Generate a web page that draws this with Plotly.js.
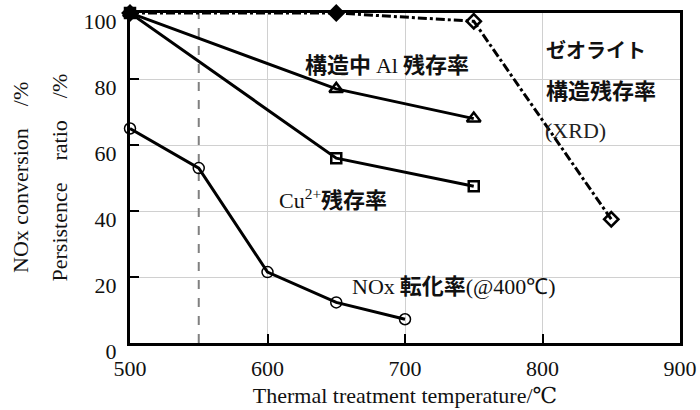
<!DOCTYPE html>
<html>
<head>
<meta charset="utf-8">
<script src="https://cdn.plot.ly/plotly-3.0.1.min.js"></script>
<style>html,body{margin:0;padding:0;background:#fff;}#chart{width:700px;height:410px;}</style>
</head>
<body>
<div id="chart"></div>
<script>
// Data
const zeoliteTemps = [500, 650, 750, 850];
const zeoliteValues = [100, 100, 97.5, 37.5];
const zeoliteSymbols = ['diamond', 'diamond', 'diamond-open', 'diamond-open'];

const alTemps = [500, 650, 750];
const alValues = [100, 77, 68];

const cuTemps = [500, 650, 750];
const cuValues = [100, 56, 47.5];

const noxTemps = [500, 550, 600, 650, 700];
const noxValues = [65, 53, 21.5, 12.3, 7.2];

const markerLineTemp = [550, 550];
const markerLineRange = [0, 100];

const xTicks = [500, 600, 700, 800, 900];
const yTicks = [0, 20, 40, 60, 80, 100];

const serif = '"Liberation Serif", "DejaVu Serif", serif';
const cjk = '"Noto Sans CJK JP", "Noto Sans CJK SC", sans-serif';
const FS = 22;

const traces = [
  {x: markerLineTemp, y: markerLineRange, mode: 'lines', line: {color: '#808080', width: 2, dash: 'dash'}, hoverinfo: 'skip'},
  {x: zeoliteTemps, y: zeoliteValues, mode: 'lines+markers', line: {color: '#000', width: 3, dash: 'dashdot'},
   marker: {symbol: zeoliteSymbols, size: 11, color: '#000', line: {color: '#000', width: 2.5}}, cliponaxis: false},
  {x: alTemps, y: alValues, mode: 'lines+markers', line: {color: '#000', width: 3},
   marker: {symbol: 'triangle-up-open', size: 12, color: '#000', line: {color: '#000', width: 2.5}}, cliponaxis: false},
  {x: cuTemps, y: cuValues, mode: 'lines+markers', line: {color: '#000', width: 3},
   marker: {symbol: 'square-open', size: 10, color: '#000', line: {color: '#000', width: 2.5}}, cliponaxis: false},
  {x: noxTemps, y: noxValues, mode: 'lines+markers', line: {color: '#000', width: 3},
   marker: {symbol: 'circle-open', size: 11, color: '#000', line: {color: '#000', width: 1.5}}, cliponaxis: false}
];

const lab = (t, x, y, opts) => Object.assign({
  text: t, x: x, y: y, xref: 'x', yref: 'y', showarrow: false, xanchor: 'left', yanchor: 'middle',
  font: {family: cjk, size: FS, color: '#111'}
}, opts || {});

const annotations = [
  lab('<b>構造中</b> <span style="font-family:Liberation Serif">Al</span> <b>残存率</b>', 626, 85),
  lab('<b>ゼオライト</b>', 801, 89, {font: {family: cjk, size: 20, color: '#111'}}),
  lab('<b>構造残存率</b>', 801, 77),
  lab('(XRD)', 800.5, 64.5, {font: {family: serif, size: FS, color: '#222'}}),
  lab('<span style="font-family:Liberation Serif">Cu<sup>2+</sup></span><b>残存率</b>', 607, 44),
  lab('<span style="font-family:Liberation Serif">NOx</span> <b>転化率</b><span style="font-family:Liberation Serif">(@400℃)</span>', 660, 17.8),
  {text: 'NOx conversion &nbsp;&nbsp;&nbsp;/%', xref: 'paper', yref: 'paper', x: -0.2, y: 0.5, xanchor: 'center', yanchor: 'middle',
   textangle: -90, showarrow: false, font: {family: serif, size: FS, color: '#111'}},
  {text: 'Persistence &nbsp;&nbsp;&nbsp;ratio &nbsp;&nbsp;&nbsp;/%', xref: 'paper', yref: 'paper', x: -0.13, y: 0.5, xanchor: 'center', yanchor: 'middle',
   textangle: -90, showarrow: false, font: {family: serif, size: FS, color: '#111'}}
];

const layout = {
  width: 700, height: 410,
  margin: {l: 130, r: 20, t: 13, b: 67},
  paper_bgcolor: '#fff', plot_bgcolor: '#fff',
  showlegend: false,
  font: {family: serif, size: FS, color: '#111'},
  xaxis: {
    range: [500, 900], tickvals: xTicks, ticktext: xTicks.map(String),
    showgrid: true, gridcolor: '#d0d0d0', gridwidth: 1,
    showline: true, linecolor: '#000', linewidth: 3, mirror: true,
    ticks: 'inside', ticklen: 9, tickwidth: 2, tickcolor: '#000',
    zeroline: false, ticklabelstandoff: 4, ticklabeloverflow: 'allow',
    title: {text: 'Thermal treatment temperature/℃', font: {family: serif, size: FS, color: '#111'}, standoff: 8}
  },
  yaxis: {
    range: [0, 100], tickvals: yTicks, ticktext: yTicks.map(String),
    showgrid: true, gridcolor: '#d0d0d0', gridwidth: 1,
    showline: true, linecolor: '#000', linewidth: 3, mirror: true,
    ticks: 'inside', ticklen: 9, tickwidth: 2, tickcolor: '#000',
    zeroline: false, ticklabelstandoff: 6, ticklabelshift: 8, ticklabeloverflow: 'allow'
  },
  annotations: annotations
};

Plotly.newPlot('chart', traces, layout, {displayModeBar: false, staticPlot: true});
</script>
</body>
</html>
